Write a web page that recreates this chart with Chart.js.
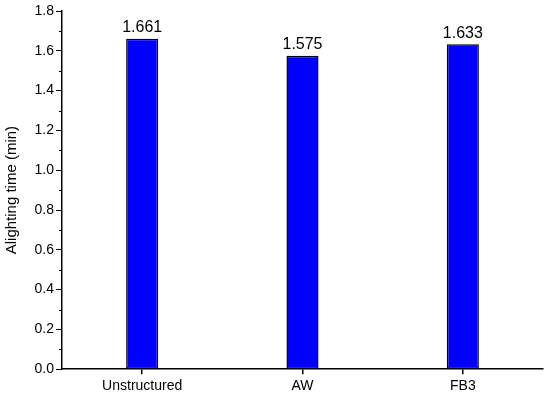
<!DOCTYPE html>
<html><head><meta charset="utf-8">
<script src="https://cdn.jsdelivr.net/npm/chart.js@4"></script>
<style>html,body{margin:0;padding:0;background:#fff}#wrap{width:550px;height:399px}</style>
</head><body><div id="wrap"><canvas id="c" width="550" height="399"></canvas></div>
<script>
const categories = ["Unstructured", "AW", "FB3"];
const values = [1.661, 1.575, 1.633];
const valueLabels = ["1.661", "1.575", "1.633"];
const yTicks = [0, 0.2, 0.4, 0.6, 0.8, 1.0, 1.2, 1.4, 1.6, 1.8];
const yMinorTicks = [0.1, 0.3, 0.5, 0.7, 0.9, 1.1, 1.3, 1.5, 1.7];

const FONT = "'Liberation Sans', Arial, sans-serif";

const extras = {
  id: 'extras',
  afterDatasetsDraw(chart) {
    const ctx = chart.ctx;
    const y = chart.scales.y;
    ctx.save();
    ctx.strokeStyle = '#000';
    ctx.lineWidth = 1;
    yMinorTicks.forEach(v => {
      const py = Math.round(y.getPixelForValue(v)) + 0.5;
      ctx.beginPath();
      ctx.moveTo(y.right, py);
      ctx.lineTo(y.right - 3, py);
      ctx.stroke();
    });
    const meta = chart.getDatasetMeta(0);
    ctx.fillStyle = '#000';
    ctx.font = '16px ' + FONT;
    ctx.textAlign = 'center';
    ctx.textBaseline = 'bottom';
    meta.data.forEach((bar, i) => {
      ctx.fillText(valueLabels[i], bar.x, bar.y - 3);
    });
    ctx.restore();
  }
};

new Chart(document.getElementById('c'), {
  type: 'bar',
  data: {
    labels: categories,
    datasets: [{
      data: values,
      backgroundColor: '#0000FF',
      borderColor: '#000020',
      borderWidth: 1.5,
      borderSkipped: false,
      categoryPercentage: 1,
      barPercentage: 0.2
    }]
  },
  options: {
    responsive: false,
    animation: false,
    layout: { padding: { top: 11, right: 7, left: 0, bottom: 0 } },
    plugins: { legend: { display: false }, tooltip: { enabled: false } },
    scales: {
      x: {
        offset: true,
        grid: { display: true, offset: false, drawOnChartArea: false, tickLength: 5, color: '#000', lineWidth: 1.5 },
        border: { display: true, color: '#000', width: 1.5 },
        ticks: { color: '#000', font: { size: 14, family: FONT }, padding: 4, maxRotation: 0 }
      },
      y: {
        min: 0, max: 1.8,
        afterBuildTicks(scale) { scale.ticks = yTicks.map(v => ({ value: v })); },
        afterFit(scale) { scale.width = 62; },
        grid: { display: true, drawOnChartArea: false, tickLength: 6, color: '#000', lineWidth: 1 },
        border: { display: true, color: '#000', width: 1.5 },
        ticks: { color: '#000', font: { size: 14, family: FONT }, padding: 2,
          callback: v => Number(v).toFixed(1) },
        title: { display: true, text: 'Alighting time (min)', color: '#000',
          font: { size: 15, family: FONT }, padding: { top: 3, bottom: 2 } }
      }
    }
  },
  plugins: [extras]
});
</script></body></html>
